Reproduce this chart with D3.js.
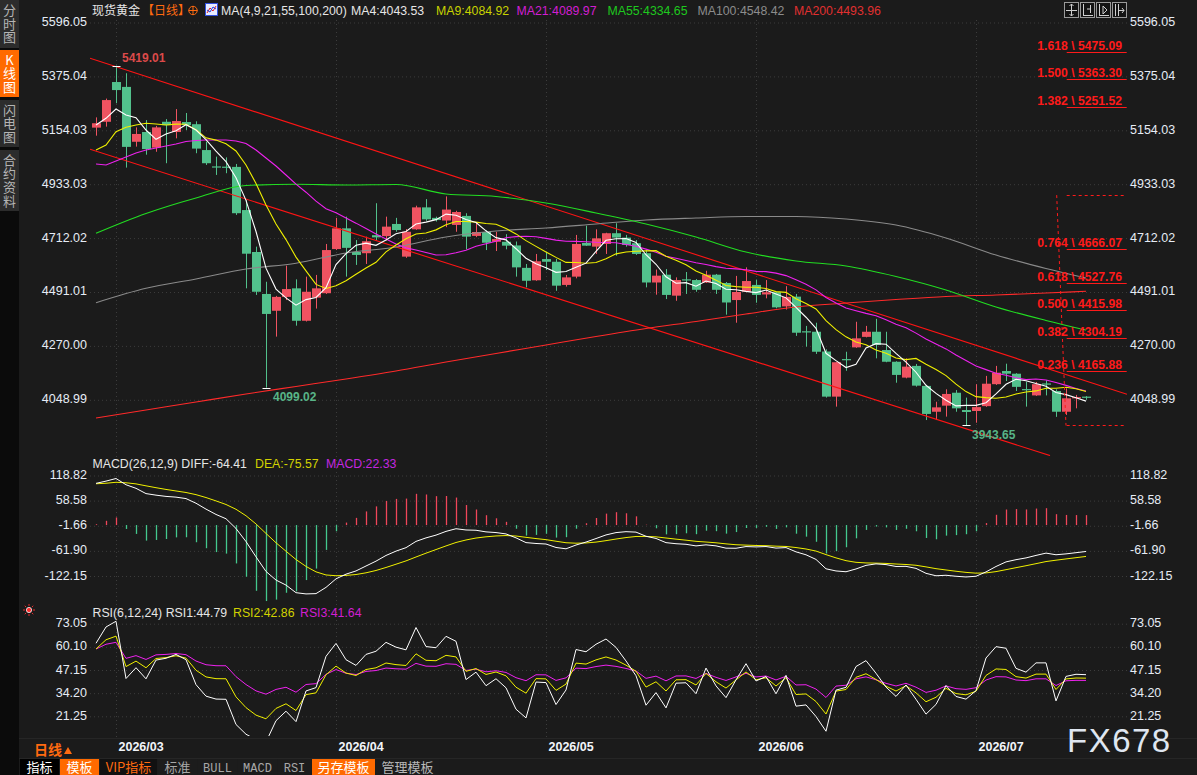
<!DOCTYPE html>
<html><head><meta charset="utf-8">
<script src="https://cdn.jsdelivr.net/npm/d3@7"></script>
<style>html,body{margin:0;padding:0;background:#1b1b1b;overflow:hidden}svg{display:block}</style>
</head><body><svg id="c" width="1197" height="775"></svg>
<script>
// ===== DATA =====
const openP  = [5165,5189,5352,5332,5107,5147,5083,5189,5147,5188,5179,5073,5006,5005,5004,4827,4655,4483,4414,4471,4506,4373,4468,4486,4667,4752,4655,4650,4724,4720,4770,4636,4748,4838,4795,4784,4766,4803,4721,4737,4697,4697,4682,4590,4539,4626,4615,4520,4554,4692,4677,4688,4732,4714,4691,4650,4530,4562,4476,4543,4540,4530,4562,4528,4458,4492,4520,4481,4490,4432,4472,4330,4328,4247,4062,4216,4264,4307,4328,4253,4205,4140,4188,4106,4000,4025,4078,4007,4003,4023,4113,4167,4156,4093,4067,4116,4085,4000,4055,4062];
const highP  = [5207,5284,5419.01,5388,5166,5196,5172,5200,5241,5225,5191,5107,5046,5043,5016,4868,4677,4533,4475,4599,4543,4554,4561,4688,4795,4800,4704,4718,4855,4800,4795,4749,4845,4872,4800,4883,4824,4814,4775,4745,4738,4728,4698,4606,4647,4656,4627,4561,4725,4763,4748,4734,4773,4725,4704,4664,4583,4585,4551,4573,4544,4578,4565,4532,4557,4592,4542,4540,4492,4515,4483,4352,4365,4256,4204,4246,4369,4352,4381,4328,4207,4219,4196,4110,4041,4092,4089,4058,4113,4147,4188,4197,4158,4123,4122,4129,4092,4096,4069,4064];
const lowP   = [5132,5169,5265,5001,5087,5054,5066,5019,5121,5155,5060,5012,4971,4978,4807,4506,4479,4099.02,4308,4458,4353,4370,4423,4483,4663,4554,4602,4606,4704,4702,4738,4631,4746,4783,4780,4757,4738,4666,4716,4663,4659,4666,4554,4510,4537,4581,4496,4513,4547,4680,4647,4647,4640,4677,4643,4510,4480,4462,4455,4483,4492,4528,4483,4398,4365,4490,4447,4465,4424,4419,4311,4267,4237,4058,4021,4168,4262,4305,4219,4203,4119,4137,4103,3966,3966,3980,4000,3943.65,3955,4020,4110,4126,4085,4021,4065,4067,3979,3987,4014,4049];
const closeP = [5183,5278,5319,5086,5139,5077,5166,5175,5192,5175,5079,5019,5003,5002,4814,4648,4492,4401,4471,4503,4373,4492,4506,4663,4752,4672,4643,4699,4715,4759,4745,4738,4838,4789,4786,4829,4819,4718,4737,4693,4708,4681,4592,4537,4617,4615,4517,4551,4688,4681,4711,4732,4714,4684,4647,4530,4558,4479,4540,4541,4500,4562,4500,4448,4491,4536,4479,4490,4428,4471,4324,4327,4246,4062,4203,4214,4301,4328,4274,4205,4151,4185,4107,3991,4018,4073,4014,3999,4019,4115,4160,4156,4102,4091,4113,4113,4000,4055,4060,4059];

const ma4Head  = [5175.8,5203.3,5241.4];
const ma9Head  = [5073.3,5093.8,5148.3,5166.4,5175.8,5182.8,5179.9,5175.8];
const ma21Head = [5015.9,5011.8,5028.2,5044.6,5061,5073.3,5081.5,5089.7,5097.9,5108.2,5112.3,5114.3,5114.3,5114.3,5110.2,5100,5073.3,5040.5,5007.7,4970.8];
// long MAs at these candle indices
const maSampleIdx = [0,5,10,15,20,25,30,35,40,45,50,55,60,65,70,75,80,85,90,95,99];
const ma55  = [4731.8,4812.9,4876.5,4927.8,4932.7,4929.8,4931.9,4892.9,4882.7,4856,4815,4769.9,4716.6,4655,4618.2,4597.7,4554.7,4499.3,4429.6,4374.3,4334.65];
const ma100 = [4447.2,4506.3,4544.4,4585.4,4608.8,4651,4675.6,4716.6,4741.2,4753.5,4769.9,4786.3,4794.5,4800.7,4800.7,4790.4,4765.8,4712.5,4642.8,4587.5,4548.42];
const ma200 = [3974.5,4007.3,4040.1,4072.9,4103.7,4134.4,4167.2,4204.1,4239,4273.8,4308.7,4341.5,4370.2,4400.9,4429.6,4446,4460.4,4472.7,4478.8,4487,4493.96];

// indicator starting states read from the first candle
const macdStart = {ema12:5118, ema26:5018, dea:99};
const rsiPeriods = [6,12,24];
const rsiStart = [62.1,58.9,58.9];
const rsiStartAbs = 60;

// axis ticks
const priceTicks = [5596.05,5375.04,5154.03,4933.03,4712.02,4491.01,4270.00,4048.99];
const macdTicks = [118.82,58.58,-1.66,-61.90,-122.15];
const rsiTicks = [73.05,60.10,47.15,34.20,21.25];
const monthIdx = [2,24,45,66,88];
const monthLabels = ["2026/03","2026/04","2026/05","2026/06","2026/07"];

// fibonacci tool
const fibRatios = ["0.236","0.382","0.500","0.618","0.764","1.382","1.500","1.618"];
const fibValues = [4165.88,4304.19,4415.98,4527.76,4666.07,5251.52,5363.30,5475.09];
const fibLow = 3943.65, fibHigh = 4888.31;

// trend lines [index, price]
const trendUpper = [[-0.6,5449.3],[103.1,4071.7]];
const trendLower = [[-0.6,5076.2],[95.4,3820.3]];

// header texts
const headMA = [["MA(4,9,21,55,100,200)","#e6e6e6"],["MA4:4043.53","#e6e6e6"],["MA9:4084.92","#c8d200"],["MA21:4089.97","#d21ed2"],["MA55:4334.65","#1ec81e"],["MA100:4548.42","#8c8c8c"],["MA200:4493.96","#e03030"]];
const headMACD = [["MACD(26,12,9) DIFF:-64.41","#e6e6e6"],["DEA:-75.57","#d2d200"],["MACD:22.33","#c428e0"]];
const headRSI = [["RSI(6,12,24) RSI1:44.79","#e6e6e6"],["RSI2:42.86","#d2d200"],["RSI3:41.64","#d21ed2"]];
const sideLabels = ["分时图","K线图","闪电图","合约资料"];
const toolLabels = ["指标","模板","VIP指标","标准","BULL","MACD","RSI","另存模板","管理模板"];

// ===== DERIVED =====
const N = closeP.length;
function sma(n, head){ return closeP.map((_,i)=> i<head.length ? head[i] : d3.mean(closeP.slice(i-n+1,i+1))); }
const ma4 = sma(4, ma4Head), ma9 = sma(9, ma9Head), ma21 = sma(21, ma21Head);

const diff=[], dea=[], hist=[];
{ let e12=macdStart.ema12, e26=macdStart.ema26, d=macdStart.dea;
  for(let i=0;i<N;i++){
    if(i>0){ e12 += 2/13*(closeP[i]-e12); e26 += 2/27*(closeP[i]-e26); }
    const df = e12-e26;
    if(i>0) d += 2/10*(df-d);
    diff.push(df); dea.push(d); hist.push(2*(df-d));
  } }
const rsi = rsiPeriods.map((n,k)=>{
  let up = rsiStart[k]/100*rsiStartAbs, ab = rsiStartAbs; const out=[rsiStart[k]];
  for(let i=1;i<N;i++){ const ch = closeP[i]-closeP[i-1];
    up = (Math.max(ch,0) + (n-1)*up)/n; ab = (Math.abs(ch)+(n-1)*ab)/n; out.push(up/ab*100); }
  return out; });

// ===== DRAW =====
const svg = d3.select('#c');
const W=1197, H=775, PL=90, PR=1127;
const FONT = '"Liberation Sans", Arial, sans-serif';
const CJK = '"Noto Sans CJK SC", sans-serif';

svg.append('rect').attr('width',W).attr('height',H).attr('fill','#1b1b1b');
svg.append('rect').attr('x',0).attr('y',0).attr('width',19).attr('height',H).attr('fill','#0b0b0b');

const x = d3.scaleLinear().domain([0,99]).range([96,1086]);
const yP = d3.scaleLinear().domain([4048.99,5596.05]).range([399.8,22.5]);
const yM = d3.scaleLinear().domain([-122.15,118.82]).range([576,475.5]);
const yR = d3.scaleLinear().domain([21.25,73.05]).range([716.3,623.7]);
const px = i => Math.round(x(i))+0.5;

const defs = svg.append('defs');
defs.append('clipPath').attr('id','cm').append('rect').attr('x',PL).attr('y',20).attr('width',PR-PL).attr('height',436);
defs.append('clipPath').attr('id','cd').append('rect').attr('x',PL).attr('y',470).attr('width',PR-PL).attr('height',135);
defs.append('clipPath').attr('id','cr').append('rect').attr('x',PL).attr('y',618).attr('width',PR-PL).attr('height',118);

// grids + axes
function grid(scale, ticks){
  const g = svg.append('g').attr('transform',`translate(${PL},0)`)
    .call(d3.axisRight(scale).tickValues(ticks).tickSize(PR-PL).tickFormat(''));
  g.select('.domain').remove();
  g.selectAll('line').attr('stroke','#3c3c3c').attr('stroke-dasharray','1,3');
}
grid(yP, priceTicks); grid(yM, macdTicks); grid(yR, rsiTicks);
function axisLabels(scale, ticks, fmt){
  const gl = svg.append('g').attr('transform','translate(87,-1)').call(d3.axisLeft(scale).tickValues(ticks).tickSize(0).tickPadding(0).tickFormat(fmt));
  const gr = svg.append('g').attr('transform','translate(1130,-1)').call(d3.axisRight(scale).tickValues(ticks).tickSize(0).tickPadding(0).tickFormat(fmt));
  [gl,gr].forEach(g=>{ g.select('.domain').remove(); g.selectAll('text').attr('fill','#e6ecf5').style('font-family',FONT).style('font-size','12.5px'); });
}
axisLabels(yP, priceTicks, d=>d.toFixed(2));
axisLabels(yM, macdTicks, d=>d.toFixed(2));
axisLabels(yR, rsiTicks, d=>d.toFixed(2));

// month gridlines + labels
svg.append('g').selectAll('line').data(monthIdx).join('line')
  .attr('x1',d=>px(d)).attr('x2',d=>px(d)).attr('y1',20).attr('y2',738)
  .attr('stroke','#3c3c3c').attr('stroke-dasharray','1,3');
svg.append('g').selectAll('text').data(monthIdx).join('text')
  .attr('x',d=>px(d)+2).attr('y',751).text((d,i)=>monthLabels[i])
  .attr('fill','#f2f5fa').style('font-family',FONT).style('font-size','12.5px').style('font-weight','bold');
svg.append('line').attr('x1',19).attr('x2',W).attr('y1',738.5).attr('y2',738.5).attr('stroke','#262626');
svg.append('line').attr('x1',19).attr('x2',W).attr('y1',758.5).attr('y2',758.5).attr('stroke','#262626');

// ---- main panel ----
const gm = svg.append('g').attr('clip-path','url(#cm)');
const UP='#ef5361', DN='#52c18c';
const candles = d3.range(N).map(i=>({i,o:openP[i],h:highP[i],l:lowP[i],c:closeP[i]}));
gm.selectAll('line.w').data(candles).join('line').attr('class','w')
  .attr('x1',d=>px(d.i)).attr('x2',d=>px(d.i)).attr('y1',d=>yP(d.h)).attr('y2',d=>yP(d.l))
  .attr('stroke',d=>d.c>=d.o?UP:DN).attr('stroke-width',1);
gm.selectAll('rect.b').data(candles).join('rect').attr('class','b')
  .attr('x',d=>Math.round(x(d.i))-4).attr('width',9)
  .attr('y',d=>yP(Math.max(d.o,d.c))).attr('height',d=>Math.max(1.2,Math.abs(yP(d.o)-yP(d.c))))
  .attr('fill',d=>d.c>=d.o?UP:DN);

// trend lines
[trendUpper,trendLower].forEach(t=>{
  gm.append('line').attr('x1',x(t[0][0])).attr('y1',yP(t[0][1])).attr('x2',x(t[1][0])).attr('y2',yP(t[1][1]))
    .attr('stroke','#ff1414').attr('stroke-width',1.1);
});

// moving averages
const lineFull = d3.line().x((d,i)=>x(i)).y(d=>yP(d));
const lineS = d3.line().x((d,i)=>x(maSampleIdx[i])).y(d=>yP(d)).curve(d3.curveMonotoneX);
gm.append('path').attr('d',lineS(ma200)).attr('fill','none').attr('stroke','#ff2a2a').attr('stroke-width',1.1);
gm.append('path').attr('d',lineS(ma100)).attr('fill','none').attr('stroke','#8a8a8a').attr('stroke-width',1.1);
gm.append('path').attr('d',lineS(ma55)).attr('fill','none').attr('stroke','#22dd22').attr('stroke-width',1.1);
gm.append('path').attr('d',lineFull(ma21)).attr('fill','none').attr('stroke','#ee22ee').attr('stroke-width',1.1);
gm.append('path').attr('d',lineFull(ma9)).attr('fill','none').attr('stroke','#f0f000').attr('stroke-width',1.1);
gm.append('path').attr('d',lineFull(ma4)).attr('fill','none').attr('stroke','#ffffff').attr('stroke-width',1.1);

// extremes
const iHi = d3.maxIndex(highP), iLo = d3.minIndex(lowP.slice(0,40)), iLo2 = d3.minIndex(lowP);
[[iHi,highP[iHi]],[iLo,lowP[iLo]],[iLo2,lowP[iLo2]]].forEach(([i,v])=>{
  gm.append('line').attr('x1',px(i)-4).attr('x2',px(i)+4).attr('y1',Math.round(yP(v))+0.5).attr('y2',Math.round(yP(v))+0.5).attr('stroke','#fff');
});
const lbl = (t,xx,yy,c)=>svg.append('text').attr('x',xx).attr('y',yy).text(t).attr('fill',c)
  .style('font-family',FONT).style('font-size','12px').style('font-weight','bold');
lbl(highP[iHi].toFixed(2), x(iHi)+6, yP(highP[iHi])-4, '#dc4a4a');
lbl(lowP[iLo].toFixed(2), x(iLo)+7, yP(lowP[iLo])+13, '#58b487');
lbl(lowP[iLo2].toFixed(2), x(iLo2)+6, yP(lowP[iLo2])+14, '#58b487');

// fibonacci
const FR='#ff1a1a', fx0=x(97.07), fx1=x(103.07);
svg.append('line').attr('x1',x(96.07)).attr('y1',yP(fibHigh)).attr('x2',x(97)).attr('y2',yP(fibLow))
  .attr('stroke',FR).attr('stroke-dasharray','3,3');
[fibHigh,fibLow].forEach(v=>svg.append('line').attr('x1',fx0).attr('x2',fx1).attr('y1',Math.round(yP(v))+0.5).attr('y2',Math.round(yP(v))+0.5)
  .attr('stroke',FR).attr('stroke-dasharray','3,3'));
fibValues.forEach((v,k)=>{
  const yy = Math.round(yP(v))+0.5;
  svg.append('line').attr('x1',fx0).attr('x2',fx1).attr('y1',yy).attr('y2',yy).attr('stroke',FR).attr('stroke-width',1.2);
  svg.append('text').attr('x',1122).attr('y',yy-2.5).attr('text-anchor','end').text(fibRatios[k]+' \\ '+v.toFixed(2))
    .attr('fill',FR).style('font-family',FONT).style('font-size','12.2px').style('font-weight','bold');
});

// ---- MACD panel ----
const gd = svg.append('g').attr('clip-path','url(#cd)');
gd.selectAll('line').data(hist).join('line')
  .attr('x1',(d,i)=>px(i)).attr('x2',(d,i)=>px(i)).attr('y1',yM(0)).attr('y2',d=>yM(d))
  .attr('stroke',d=>d>=0?'#f0465a':'#44c88e').attr('stroke-width',1.3);
gd.append('path').attr('d',d3.line().x((d,i)=>x(i)).y(d=>yM(d))(dea)).attr('fill','none').attr('stroke','#f0f000').attr('stroke-width',1);
gd.append('path').attr('d',d3.line().x((d,i)=>x(i)).y(d=>yM(d))(diff)).attr('fill','none').attr('stroke','#ffffff').attr('stroke-width',1);

// ---- RSI panel ----
const gr = svg.append('g').attr('clip-path','url(#cr)');
const rsiCol = ['#ffffff','#f0f000','#ee22ee'];
[2,1,0].forEach(k=>gr.append('path').attr('d',d3.line().x((d,i)=>x(i)).y(d=>yR(d))(rsi[k]))
  .attr('fill','none').attr('stroke',rsiCol[k]).attr('stroke-width',1));

// ---- headers ----
function header(items, xs, yy){
  items.forEach(([t,c],k)=>svg.append('text').attr('x',xs[k]).attr('y',yy).text(t).attr('fill',c)
    .style('font-family',FONT).style('font-size','12.3px'));
}
svg.append('text').attr('x',92).attr('y',14.5).text('现货黄金').attr('fill','#e6e6e6').style('font-family',CJK).style('font-size','12px');
svg.append('text').attr('x',142).attr('y',14.5).text('【日线】').attr('fill','#ff6a10').style('font-family',CJK).style('font-size','12px');
svg.append('circle').attr('cx',193).attr('cy',10.5).attr('r',4.2).attr('fill','none').attr('stroke','#ff6a10');
svg.append('line').attr('x1',188.5).attr('x2',197.5).attr('y1',10.5).attr('y2',10.5).attr('stroke','#ff6a10');
svg.append('line').attr('x1',193).attr('x2',193).attr('y1',6).attr('y2',15).attr('stroke','#ff6a10');
svg.append('rect').attr('x',205.5).attr('y',3.5).attr('width',12).attr('height',12).attr('fill','#e8ecff').attr('stroke','#3050e0');
svg.append('polyline').attr('points','207,13 210,8 213,11 216,6').attr('fill','none').attr('stroke','#e02020');
svg.append('polyline').attr('points','207,10 210,12 213,7 216,9').attr('fill','none').attr('stroke','#2040e0');
header(headMA,[221,351,436,516.5,607.5,697.5,794],14.5);
header(headMACD,[92.5,255,326],467.5);
header(headRSI,[92.5,233,300],617);

// top-right tool icons
const icx=[1064,1080,1096,1112];
icx.forEach((xx,k)=>{
  const g=svg.append('g').attr('transform',`translate(${xx},2)`);
  g.append('rect').attr('x',0.5).attr('y',0.5).attr('width',14).attr('height',15).attr('fill','#141414').attr('stroke','#9a9a9a');
  const s='#d0d0d0';
  if(k===0){ g.append('path').attr('d','M7.5,2V14M2,8.5H13M5.5,4L7.5,2L9.5,4M5.5,12L7.5,14L9.5,12').attr('stroke',s).attr('fill','none'); }
  if(k===1){ g.append('path').attr('d','M3.5,2V14M3,13.5H13M10.5,3V11M7,7H10').attr('stroke',s).attr('fill','none'); }
  if(k===2){ g.append('path').attr('d','M3.5,2V14M3,13.5H13M7,4L11,8L7,12Z').attr('stroke',s).attr('fill','none'); }
  if(k===3){ g.append('path').attr('d','M3.5,2V14M6.5,2V14M7,8.5H12M10,6L12,8.5L10,11').attr('stroke',s).attr('fill','none'); }
});

// left side bar (vertical text, one element per button)
const sideSpan=[[0,48],[50,97],[100,147],[150,211]];
sideLabels.forEach((t,k)=>{
  const [a,b]=sideSpan[k], active=k===1;
  svg.append('rect').attr('x',0).attr('y',a).attr('width',19).attr('height',b-a).attr('fill',active?'#ff6a00':'#2c2c2c');
  svg.append('text').attr('x',9.5).attr('y',(a+b)/2).attr('text-anchor','middle').text(t)
    .attr('fill',active?'#ffffff':'#b4b4b4')
    .style('font-family',CJK).style('font-size','13px').style('letter-spacing','0.6px')
    .style('writing-mode','vertical-rl').style('text-orientation','upright');
});

// radar icon
svg.append('circle').attr('cx',29).attr('cy',610).attr('r',2.6).attr('fill','#ff2a2a').attr('stroke','#fff').attr('stroke-width',0.8);
d3.range(8).forEach(k=>{ const a=k*Math.PI/4; svg.append('line')
  .attr('x1',29+Math.cos(a)*4).attr('y1',610+Math.sin(a)*4).attr('x2',29+Math.cos(a)*6).attr('y2',610+Math.sin(a)*6).attr('stroke','#ff3030').attr('stroke-width',0.9); });

// bottom: 日线 and toolbar
svg.append('text').attr('x',34).attr('y',755).text('日线').attr('fill','#ff6a10').style('font-family',CJK).style('font-size','14px').style('font-weight','bold');
svg.append('path').attr('d','M64,754L68,747L72,754Z').attr('fill','#ff6a10');
const toolSpan=[[20,59],[60,99],[100,157],[158,197],[198,237],[238,277],[278,311],[312,375],[376,439]];
const toolStyle=[['#000','#fff'],['#ff6a00','#fff'],['#111','#ff6a10'],['#1c1c1c','#a8a8a8'],['#1c1c1c','#a8a8a8'],['#1c1c1c','#a8a8a8'],['#1c1c1c','#a8a8a8'],['#ff6a00','#fff'],['#1c1c1c','#b8b8b8']];
toolLabels.forEach((t,k)=>{
  const [a,b]=toolSpan[k];
  svg.append('rect').attr('x',a).attr('y',759).attr('width',b-a).attr('height',16).attr('fill',toolStyle[k][0]);
  const latin=/^[A-Z]+$/.test(t);
  svg.append('text').attr('x',(a+b)/2).attr('y',772).attr('text-anchor','middle').text(t).attr('fill',toolStyle[k][1])
    .style('font-family',latin?'"Liberation Mono", monospace':CJK).style('font-size',latin?'12px':'13px');
});

// watermark
svg.append('text').attr('x',1067).attr('y',752).text('FX678').attr('fill','#dfe6f0')
  .style('font-family',FONT).style('font-size','33px').style('letter-spacing','1.5px');
</script></body></html>
